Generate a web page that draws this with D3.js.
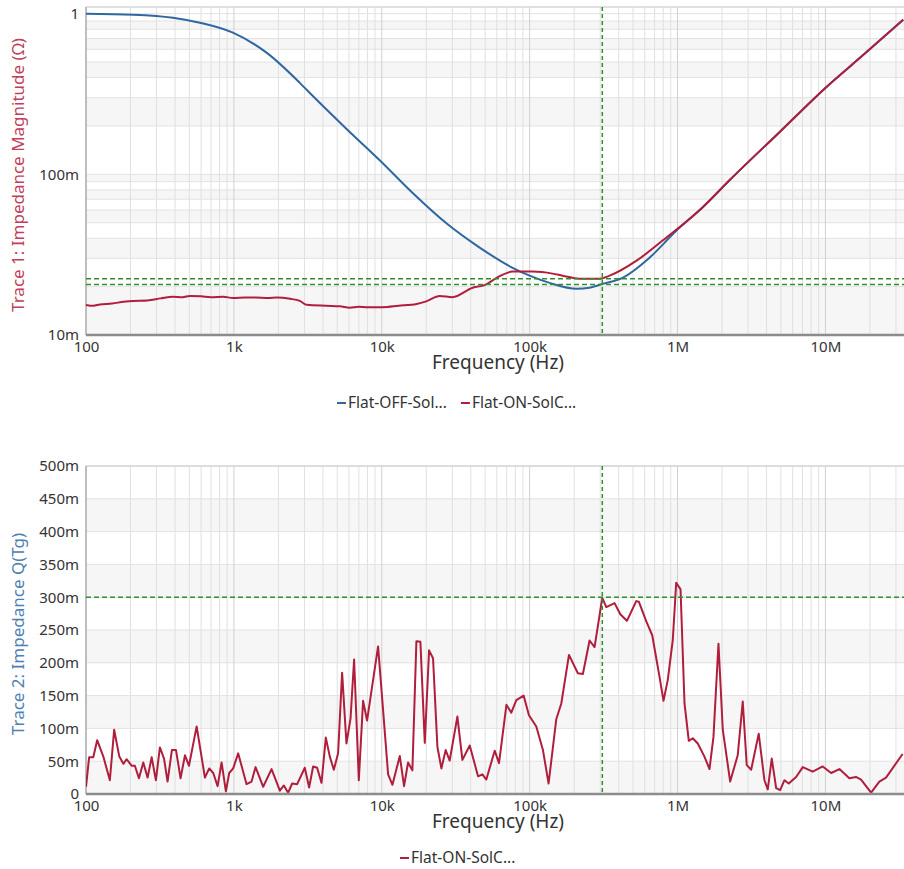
<!DOCTYPE html>
<html>
<head>
<meta charset="utf-8">
<script src="https://cdn.jsdelivr.net/npm/d3@7"></script>
<style>
  body { margin: 0; background: #fff; }
  svg { font-family: "Noto Sans", "Open Sans", sans-serif; }
</style>
</head>
<body>
<svg id="chart" width="904" height="869"></svg>
<script>
/* Impedance magnitude + Q(Tg) vs frequency, two stacked log-x panels */

// ---- data ----
const xTickValues = [1e2, 1e3, 1e4, 1e5, 1e6, 1e7];
const xTickLabels = ["100", "1k", "10k", "100k", "1M", "10M"];

const magTickValues = [0.01, 0.1, 1];
const magTickLabels = ["10m", "100m", "1"];

const qTickValues = [0, 50, 100, 150, 200, 250, 300, 350, 400, 450, 500];
const qTickLabels = ["0", "50m", "100m", "150m", "200m", "250m", "300m", "350m", "400m", "450m", "500m"];

// trace 1, OFF (blue)
const offFreq = [100, 208, 387, 589, 985, 1671, 2792, 3420, 5804, 9687, 16190, 27490, 45920,
  76740, 100000, 136500, 207900, 254200, 311300, 424900, 647000, 984500, 1475000, 2245000,
  4890000, 10000000, 18400000, 33600000];
const offMag = [1.0, 0.986, 0.944, 0.878, 0.761, 0.570, 0.371, 0.307, 0.191, 0.1224, 0.0765, 0.0494, 0.0350,
  0.0262, 0.0234, 0.0211, 0.0194, 0.0197, 0.0208, 0.0227, 0.0303, 0.0447, 0.0622, 0.0918,
  0.183, 0.345, 0.562, 0.917];

// trace 1, ON (red)
const onFreq = [100, 112, 124, 150, 180, 208, 260, 320, 387, 450, 504, 600, 700, 850, 985, 1200, 1400,
  1700, 1952, 2400, 2792, 3113, 4200, 5200, 6080, 7000, 8000, 10160, 13000, 17230, 20000, 24650,
  30000, 41200, 50000, 59840, 76740, 104700, 143000, 167100, 217700, 297200,
  347300, 528500, 792000, 984500, 1475000, 2245000, 4890000, 10000000, 18400000, 33600000];
const onMag = [0.0154, 0.0152, 0.0155, 0.0157, 0.0161, 0.0163, 0.0164, 0.0169, 0.0173, 0.0172, 0.0175, 0.0174,
  0.0172, 0.0173, 0.0170, 0.0171, 0.0171, 0.0170, 0.0171, 0.0168, 0.0163, 0.0154, 0.0152, 0.0151,
  0.0148, 0.0150, 0.0149, 0.0149, 0.0152, 0.0156, 0.0162, 0.0175, 0.0172, 0.0197, 0.0205, 0.0227,
  0.0248, 0.0248, 0.0241, 0.0234, 0.0224, 0.0224,
  0.0234, 0.0290, 0.0387, 0.0453, 0.0622, 0.0918, 0.183, 0.345, 0.562, 0.917];

// trace 2, ON (red), Q in milli-units
const qFreq = [100, 105, 112, 119, 131, 145, 155, 168, 179, 188, 204, 214, 228, 244, 261, 278, 297, 316,
  337, 356, 381, 406, 436, 467, 497, 560, 637, 681, 725, 776, 826, 883, 930, 989, 1069, 1218, 1317,
  1402, 1578, 1798, 2046, 2178, 2328, 2477, 2678, 3017, 3227, 3434, 3655, 3914, 4185, 4454, 4740,
  5068, 5393, 5770, 6149, 6500, 6995, 7477, 7955, 9442, 11040, 11810, 13240, 14150, 15060, 16110,
  17150, 18250, 19540, 20890, 22220, 23780, 25300, 27060, 28790, 32460, 35100, 39350, 44770, 47900,
  50940, 58020, 62080, 69660, 75170, 81280, 91050, 98900, 110900, 123000, 134300, 151400, 163700,
  184500, 211900, 229100, 254200, 274900, 309800, 329700, 375100, 410300, 454800, 525800, 548100,
  614900, 674500, 755100, 803900, 859400, 929000, 979500, 1048000, 1115000, 1192000, 1268000,
  1371000, 1521000, 1645000, 1750000, 1892000, 2023000, 2270000, 2553000, 2761000, 2938000,
  3148000, 3540000, 3870000, 4077000, 4337000, 4645000, 4943000, 5285000, 5650000, 6339000,
  7031000, 8204000, 9592000, 10940000, 12440000, 14520000, 16110000, 17420000, 20370000,
  23170000, 25700000, 33270000];
const qVal = [11, 56, 56, 82, 57, 21, 98, 57, 46, 53, 43, 43, 24, 48, 25, 56, 21, 71,
  54, 19, 67, 67, 24, 59, 43, 103, 25, 39, 32, 12, 48, 4, 32, 39, 62, 15, 19,
  41, 11, 38, 5, 13, 2, 16, 15, 40, 10, 42, 40, 17, 86, 57, 37,
  62, 185, 77, 115, 205, 21, 142, 112, 225, 30, 14, 58, 12, 48, 36,
  233, 232, 78, 219, 207, 72, 39, 67, 51, 118, 52, 74, 27, 30,
  22, 66, 47, 136, 124, 143, 150, 120, 103, 67, 16, 114, 138,
  212, 184, 183, 234, 224, 299, 285, 291, 274, 264, 294, 293,
  263, 242, 179, 142, 174, 235, 322, 312, 138, 81, 85,
  77, 57, 38, 87, 229, 98, 19, 59, 141, 44,
  37, 92, 21, 7, 54, 9, 6, 21, 16, 26,
  41, 34, 42, 32, 38, 24, 26, 22, 2,
  19, 25, 61];

// cursor readouts
const cursorFreq = 310000;
const cursorMag = [0.0224, 0.0206];
const cursorQ = [300];

const legendTop = ["Flat-OFF-Sol...", "Flat-ON-SolC..."];
const legendBottom = ["Flat-ON-SolC..."];

const BLUE = "#2f67a0";
const RED = "#b01e3c";
const GREEN = "#2f8f2f";

const svg = d3.select("#chart");

// shared x scale (log frequency); plot is cut at the right edge of the image
const xScale = d3.scaleLog().domain([100, 3.4e7]).range([86, 904]);

// all 1..9 x decade positions inside the domain
const logGridValues = function(lo, hi){
  let vals = [];
  for (let d = lo; d <= hi; d *= 10){
    for (let m = 1; m <= 9; m++){
      let v = m * d;
      if (v >= lo * 0.999 && v <= hi * 1.001) vals.push(v);
    }
  }
  return vals;
};

class Panel
{
  constructor(id, top, bottom, yScale, bandValues)
  {
    this.top = top;
    this.bottom = bottom;
    this.yScale = yScale;
    this.left = 86;
    this.right = 904;

    this.g = svg.append("g");

    // clip for the traces
    svg.append("defs").append("clipPath")
      .attr("id", "clip" + id)
      .append("rect")
      .attr("x", this.left).attr("y", this.top)
      .attr("width", this.right - this.left)
      .attr("height", this.bottom - this.top);

    // alternating horizontal bands
    for (let i = 0; i < bandValues.length - 1; i++){
      if (i % 2 == 1) continue;
      let y0 = yScale(bandValues[i]), y1 = yScale(bandValues[i + 1]);
      this.g.append("rect")
        .attr("x", this.left).attr("width", this.right - this.left)
        .attr("y", Math.min(y0, y1)).attr("height", Math.abs(y1 - y0))
        .attr("fill", "#f6f6f6");
    }

    // horizontal grid
    this.g.selectAll(".hgrid").data(bandValues).enter().append("line")
      .attr("x1", this.left).attr("x2", this.right)
      .attr("y1", d => yScale(d)).attr("y2", d => yScale(d))
      .attr("stroke", "#e2e2e2").attr("stroke-width", 1);

    // vertical grid (decades a little darker)
    let xs = logGridValues(100, 3.4e7);
    this.g.selectAll(".vgrid").data(xs).enter().append("line")
      .attr("x1", d => xScale(d)).attr("x2", d => xScale(d))
      .attr("y1", this.top).attr("y2", this.bottom)
      .attr("stroke", d => xTickValues.includes(d) ? "#d0d0d0" : "#e0e0e0")
      .attr("stroke-width", 1);

    // top border + left axis line
    this.g.append("line")
      .attr("x1", this.left).attr("x2", this.right)
      .attr("y1", this.top).attr("y2", this.top)
      .attr("stroke", "#d6d6d6").attr("stroke-width", 1.5);
    this.g.append("line")
      .attr("x1", this.left).attr("x2", this.left)
      .attr("y1", this.top).attr("y2", this.bottom)
      .attr("stroke", "#b0b0b0").attr("stroke-width", 1.5);

    this.traces = svg.append("g").attr("clip-path", "url(#clip" + id + ")");
  }

  addLine(xs, ys, color, curve)
  {
    let data = xs.map((x, i) => ({x: x, y: ys[i]}));
    let line = d3.line()
      .x(d => xScale(d.x))
      .y(d => this.yScale(d.y))
      .curve(curve || d3.curveLinear);
    this.traces.append("path")
      .datum(data)
      .attr("d", line)
      .attr("fill", "none")
      .attr("stroke", color)
      .attr("stroke-width", 2)
      .attr("stroke-linejoin", "round");
  }

  addCursor(freq, levels)
  {
    this.traces.append("line")
      .attr("x1", xScale(freq)).attr("x2", xScale(freq))
      .attr("y1", this.top).attr("y2", this.bottom)
      .attr("stroke", GREEN).attr("stroke-width", 1.5)
      .attr("stroke-dasharray", "4,3");
    for (let v of levels){
      this.traces.append("line")
        .attr("x1", this.left).attr("x2", this.right)
        .attr("y1", this.yScale(v)).attr("y2", this.yScale(v))
        .attr("stroke", GREEN).attr("stroke-width", 1.5)
        .attr("stroke-dasharray", "5,3");
    }
  }

  drawAxes(yTickValues, yTickLabels, yTitle, yTitleColor)
  {
    // bottom axis line
    svg.append("line")
      .attr("x1", this.left).attr("x2", this.right)
      .attr("y1", this.bottom).attr("y2", this.bottom)
      .attr("stroke", "#8c8c8c").attr("stroke-width", 2.5);

    let xAxis = d3.axisBottom(xScale)
      .tickValues(xTickValues)
      .tickSize(0)
      .tickPadding(6)
      .tickFormat((d, i) => xTickLabels[i]);
    let gX = svg.append("g")
      .attr("transform", "translate(0," + this.bottom + ")")
      .call(xAxis);
    gX.select(".domain").remove();
    gX.selectAll("text").attr("font-size", 15).attr("fill", "#333")
      .attr("font-family", "\"Noto Sans\", sans-serif");

    let yAxis = d3.axisLeft(this.yScale)
      .tickValues(yTickValues)
      .tickSize(0)
      .tickPadding(7)
      .tickFormat((d, i) => yTickLabels[i]);
    let gY = svg.append("g")
      .attr("transform", "translate(" + this.left + ",0)")
      .call(yAxis);
    gY.select(".domain").remove();
    gY.selectAll("text").attr("font-size", 15).attr("fill", "#333")
      .attr("font-family", "\"Noto Sans\", sans-serif");

    // x title (overlaps the 100k label, as in the original)
    svg.append("text")
      .attr("x", 498).attr("y", this.bottom + 34)
      .attr("text-anchor", "middle")
      .attr("font-size", 19).attr("fill", "#333")
      .text("Frequency (Hz)");

    // y title
    svg.append("text")
      .attr("text-anchor", "middle")
      .attr("transform", "translate(24," + ((this.top + this.bottom) / 2 + 4) + ")rotate(-90)")
      .attr("font-size", 17).attr("fill", yTitleColor)
      .text(yTitle);
  }

  drawLegend(names, colors, x, y)
  {
    let cx = x;
    names.forEach((name, i) => {
      svg.append("line")
        .attr("x1", cx).attr("x2", cx + 9)
        .attr("y1", y).attr("y2", y)
        .attr("stroke", colors[i]).attr("stroke-width", 2);
      let t = svg.append("text")
        .attr("x", cx + 11).attr("y", y + 5)
        .attr("font-size", 15.5).attr("fill", "#333")
        .text(name);
      cx += t.node().getComputedTextLength() + 25;
    });
  }
}

// ---- trace 1: impedance magnitude ----
const magScale = d3.scaleLog().domain([0.01, 1.1]).range([335, 7]);
const magGrid = logGridValues(0.01, 1);
const topPanel = new Panel("top", 7, 335, magScale, magGrid);
topPanel.addLine(offFreq, offMag, BLUE, d3.curveMonotoneX);
topPanel.addLine(onFreq, onMag, RED, d3.curveMonotoneX);
topPanel.addCursor(cursorFreq, cursorMag);
topPanel.drawAxes(magTickValues, magTickLabels, "Trace 1: Impedance Magnitude (\u03A9)", "#c0405a");
topPanel.drawLegend(legendTop, [BLUE, RED], 337, 403);

// ---- trace 2: impedance Q ----
const qScale = d3.scaleLinear().domain([0, 500]).range([794, 466]);
const bottomPanel = new Panel("bottom", 466, 794, qScale, qTickValues);
bottomPanel.addLine(qFreq, qVal, RED);
bottomPanel.addCursor(cursorFreq, cursorQ);
bottomPanel.drawAxes(qTickValues, qTickLabels, "Trace 2: Impedance Q(Tg)", "#4f80b2");
bottomPanel.drawLegend(legendBottom, [RED], 400, 858);
</script>
</body>
</html>
